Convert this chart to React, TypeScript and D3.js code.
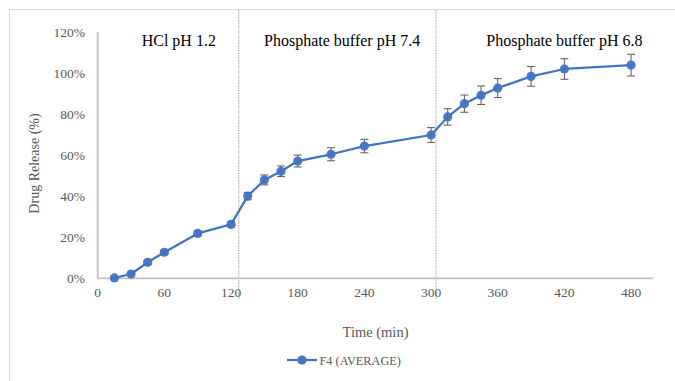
import React, { useEffect, useRef } from "react";
import * as d3 from "d3";

// sampling times (min)
const times = [15, 30, 45, 60, 90, 120, 135, 150, 165, 180, 210, 240, 300, 315, 330, 345, 360, 390, 420, 480];
// mean release (%)
const release = [0.2, 2.1, 7.8, 12.7, 21.9, 26.3, 40.1, 48.0, 52.2, 57.2, 60.5, 64.5, 69.9, 78.7, 85.2, 89.3, 92.8, 98.5, 102.1, 104.0];
// standard deviation (%)
const errors = [0.5, 0.8, 1.0, 1.0, 1.2, 1.2, 1.8, 2.4, 2.6, 2.9, 3.2, 3.3, 3.6, 4.0, 4.2, 4.5, 4.6, 4.8, 5.0, 5.3];

const xTicks = [0, 60, 120, 180, 240, 300, 360, 420, 480];
const yTicks = [0, 20, 40, 60, 80, 100, 120];

const phaseBounds = [127, 304.5];
const phaseLabels = ["HCl pH 1.2", "Phosphate buffer pH 7.4", "Phosphate buffer pH 6.8"];
const phaseLabelX = [73, 220, 420];

const seriesName = "F4 (AVERAGE)";

export default function App() {
  const ref = useRef<SVGSVGElement>(null);

  useEffect(() => {
    const width = 675;
    const height = 381;
    const svg = d3.select(ref.current);
    svg.selectAll("*").remove();

    const blue = "#4472C4";
    const gray = "#595959";
    const font = "'Liberation Serif', 'Times New Roman', serif";

    const x = d3.scaleLinear().domain([0, 500]).range([97.7, 653.3]);
    const y = d3.scaleLinear().domain([0, 120]).range([278.3, 32.3]);

    svg.append("rect").attr("width", width).attr("height", height).attr("fill", "#fff");

    // outer chart frame (right/bottom edges cut off)
    svg.append("rect")
      .attr("x", 9.5)
      .attr("y", 9.5)
      .attr("width", width + 20)
      .attr("height", height + 20)
      .attr("fill", "none")
      .attr("stroke", "#d9d9d9")
      .attr("stroke-width", 1);

    // phase boundaries
    svg.selectAll(".bound")
      .data(phaseBounds)
      .join("line")
      .attr("x1", (d) => x(d))
      .attr("x2", (d) => x(d))
      .attr("y1", 10)
      .attr("y2", 299)
      .attr("stroke", "#a6a6a6")
      .attr("stroke-width", 1)
      .attr("stroke-dasharray", "1.5,1");

    // axes lines
    svg.append("line")
      .attr("x1", x(0)).attr("x2", x(0))
      .attr("y1", y(120)).attr("y2", y(0))
      .attr("stroke", "#bfbfbf").attr("stroke-width", 1.8);
    svg.append("line")
      .attr("x1", x(0)).attr("x2", x(500))
      .attr("y1", y(0)).attr("y2", y(0))
      .attr("stroke", "#bfbfbf").attr("stroke-width", 1.8);

    // tick labels
    svg.selectAll(".ytick")
      .data(yTicks)
      .join("text")
      .attr("x", 85)
      .attr("y", (d) => y(d))
      .attr("dy", "0.35em")
      .attr("text-anchor", "end")
      .attr("font-family", font)
      .attr("font-size", 13.5)
      .attr("fill", gray)
      .text((d) => d + "%");

    svg.selectAll(".xtick")
      .data(xTicks)
      .join("text")
      .attr("x", (d) => x(d))
      .attr("y", y(0) + 19)
      .attr("text-anchor", "middle")
      .attr("font-family", font)
      .attr("font-size", 13.5)
      .attr("fill", gray)
      .text((d) => d);

    // axis titles
    svg.append("text")
      .attr("transform", `translate(39,163.5) rotate(-90)`)
      .attr("text-anchor", "middle")
      .attr("font-family", font)
      .attr("font-size", 14)
      .attr("fill", gray)
      .text("Drug Release (%)");

    svg.append("text")
      .attr("x", 375.5)
      .attr("y", 337)
      .attr("text-anchor", "middle")
      .attr("font-family", font)
      .attr("font-size", 14.5)
      .attr("fill", gray)
      .text("Time (min)");

    // phase labels
    svg.selectAll(".phase")
      .data(phaseLabels)
      .join("text")
      .attr("x", (_, i) => x(phaseLabelX[i]))
      .attr("y", 46)
      .attr("text-anchor", "middle")
      .attr("font-family", font)
      .attr("font-size", 16)
      .attr("fill", "#000")
      .text((d) => d);

    const pts = times.map((t, i) => ({ t, v: release[i], e: errors[i] }));

    // line
    const line = d3.line<any>().x((d) => x(d.t)).y((d) => y(d.v));
    svg.append("path")
      .datum(pts)
      .attr("d", line)
      .attr("fill", "none")
      .attr("stroke", blue)
      .attr("stroke-width", 2.25)
      .attr("stroke-linejoin", "round");

    // error bars
    const eb = svg.append("g").attr("stroke", gray).attr("stroke-width", 1);
    pts.forEach((d) => {
      const cx = x(d.t);
      eb.append("line").attr("x1", cx).attr("x2", cx).attr("y1", y(d.v + d.e)).attr("y2", y(d.v - d.e));
      eb.append("line").attr("x1", cx - 4).attr("x2", cx + 4).attr("y1", y(d.v + d.e)).attr("y2", y(d.v + d.e));
      eb.append("line").attr("x1", cx - 4).attr("x2", cx + 4).attr("y1", y(d.v - d.e)).attr("y2", y(d.v - d.e));
    });

    // markers
    svg.selectAll(".pt")
      .data(pts)
      .join("circle")
      .attr("cx", (d) => x(d.t))
      .attr("cy", (d) => y(d.v))
      .attr("r", 4.6)
      .attr("fill", blue)
      .attr("fill-opacity", 0.95);

    // legend
    const lg = svg.append("g");
    lg.append("line")
      .attr("x1", 287).attr("x2", 317)
      .attr("y1", 360).attr("y2", 360)
      .attr("stroke", blue).attr("stroke-width", 2.25);
    lg.append("circle").attr("cx", 302).attr("cy", 360).attr("r", 4.6).attr("fill", blue);
    lg.append("text")
      .attr("x", 319.5)
      .attr("y", 364.5)
      .attr("font-family", font)
      .attr("font-size", 12.3)
      .attr("fill", gray)
      .text(seriesName);
  }, []);

  return (
    <svg
      ref={ref}
      width={675}
      height={381}
      style={{ position: "absolute", left: 0, top: 0 }}
    />
  );
}
